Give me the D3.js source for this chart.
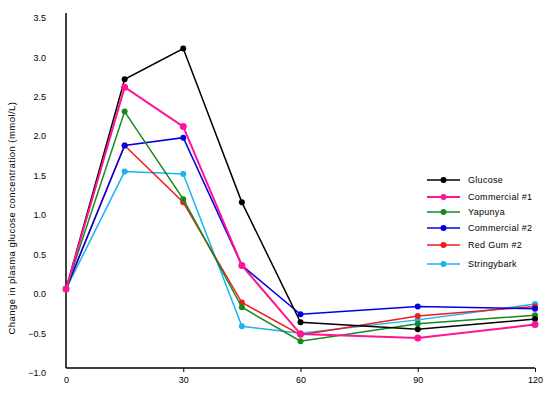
<!DOCTYPE html>
<html>
<head>
<meta charset="utf-8">
<script src="https://cdn.jsdelivr.net/npm/d3@7"></script>
<style>
  body { margin: 0; background: #fff; }
  svg { display: block; font-family: "Liberation Sans", Arial, sans-serif; }
</style>
</head>
<body>
<div id="chart"></div>
<script>
// time after ingestion (min)
var times = [0, 15, 30, 45, 60, 90, 120]
var xTicks = [0, 30, 60, 90, 120]
var yTicks = [-1.0, -0.5, 0.0, 0.5, 1.0, 1.5, 2.0, 2.5, 3.0, 3.5]

var seriesNames = ['Glucose', 'Commercial #1', 'Yapunya', 'Commercial #2', 'Red Gum #2', 'Stringybark']
var seriesColors = ['#000000', '#ff1493', '#138a1e', '#0000e6', '#ee1c1c', '#1ab4f0']

var glucose      = [0, 2.66, 3.05, 1.10, -0.42, -0.51, -0.38]
var commercial1  = [0, 2.56, 2.06, 0.30, -0.57, -0.62, -0.45]
var yapunya      = [0, 2.25, 1.14, -0.23, -0.66, -0.44, -0.33]
var commercial2  = [0, 1.82, 1.92, 0.30, -0.32, -0.22, -0.25]
var redGum2      = [0, 1.82, 1.10, -0.17, -0.58, -0.34, -0.22]
var stringybark  = [0, 1.49, 1.46, -0.47, -0.56, -0.39, -0.19]

var seriesValues = [glucose, commercial1, yapunya, commercial2, redGum2, stringybark]

var W = 555, H = 397
var margin = {top: 13, right: 20, bottom: 29, left: 66}
var width = W - margin.left - margin.right,
    height = H - margin.top - margin.bottom

var x = d3.scaleLinear().domain([0, 120]).range([0, width])
var y = d3.scaleLinear().domain([-1, 3.5]).range([height, 0])

var svg = d3.select('#chart').append('svg')
    .attr('width', W)
    .attr('height', H)
  .append('g')
    .attr('transform', 'translate(' + margin.left + ',' + margin.top + ')')

// axes
var xAxis = d3.axisBottom(x).tickValues(xTicks).tickSize(4).tickPadding(5).tickFormat(d3.format('d'))
var gx = svg.append('g')
    .attr('transform', 'translate(0,' + height + ')')
    .call(xAxis)
gx.select('.domain').attr('stroke', '#000').attr('stroke-width', 1.5).attr('d', 'M0,0H' + width)
gx.selectAll('.tick line').attr('stroke', '#000')
gx.selectAll('.tick').filter(function(d){ return d === 0 }).select('line').remove()
gx.selectAll('text').attr('font-size', '9px').attr('fill', '#000')
  .attr('font-family', '"Liberation Sans", Arial, sans-serif')

var yAxis = d3.axisLeft(y).tickValues(yTicks).tickSize(0).tickPadding(20).tickFormat(d3.format('.1f'))
var gy = svg.append('g').call(yAxis)
gy.select('.domain').attr('stroke', '#000').attr('stroke-width', 1.5).attr('d', 'M0,0V' + height)
gy.selectAll('text').attr('font-size', '9px').attr('fill', '#000').attr('dy', '0.85em')
  .attr('font-family', '"Liberation Sans", Arial, sans-serif')

// y title
svg.append('text')
    .attr('transform', 'translate(' + (15 - margin.left) + ',' + (218 - margin.top) + ') rotate(-90)')
    .attr('text-anchor', 'middle')
    .attr('font-size', '9.5px')
    .attr('letter-spacing', '0.45px')
    .attr('fill', '#000')
    .text('Change in plasma glucose concentration (mmol/L)')

// series, drawn back to front
var order = [5, 4, 3, 2, 0, 1]
var line = d3.line()
    .x(function(d, i){ return x(times[i]) })
    .y(function(d){ return y(d) })

order.forEach(function(s){
  var g = svg.append('g')
  g.append('path')
      .datum(seriesValues[s])
      .attr('d', line)
      .attr('fill', 'none')
      .attr('stroke', seriesColors[s])
      .attr('stroke-width', s === 1 ? 2 : 1.5)
  g.selectAll('circle')
      .data(seriesValues[s])
    .enter().append('circle')
      .attr('cx', function(d, i){ return x(times[i]) })
      .attr('cy', function(d){ return y(d) })
      .attr('r', s === 1 ? 3.5 : 3)
      .attr('fill', seriesColors[s])
})

// legend
var legendY = [180, 197, 212, 228, 245, 264]
var legend = svg.append('g')
    .attr('transform', 'translate(' + (427 - margin.left) + ',' + (-margin.top) + ')')
seriesNames.forEach(function(name, i){
  var row = legend.append('g').attr('transform', 'translate(0,' + legendY[i] + ')')
  row.append('line')
      .attr('x1', 0).attr('x2', 33)
      .attr('stroke', seriesColors[i])
      .attr('stroke-width', i === 1 ? 2 : 1.5)
  row.append('circle')
      .attr('cx', 16.5).attr('r', 3)
      .attr('fill', seriesColors[i])
  row.append('text')
      .attr('x', 41).attr('dy', '0.35em')
      .attr('font-size', '9px')
      .attr('letter-spacing', '0.3px')
      .attr('fill', '#000')
      .text(name)
})
</script>
</body>
</html>
